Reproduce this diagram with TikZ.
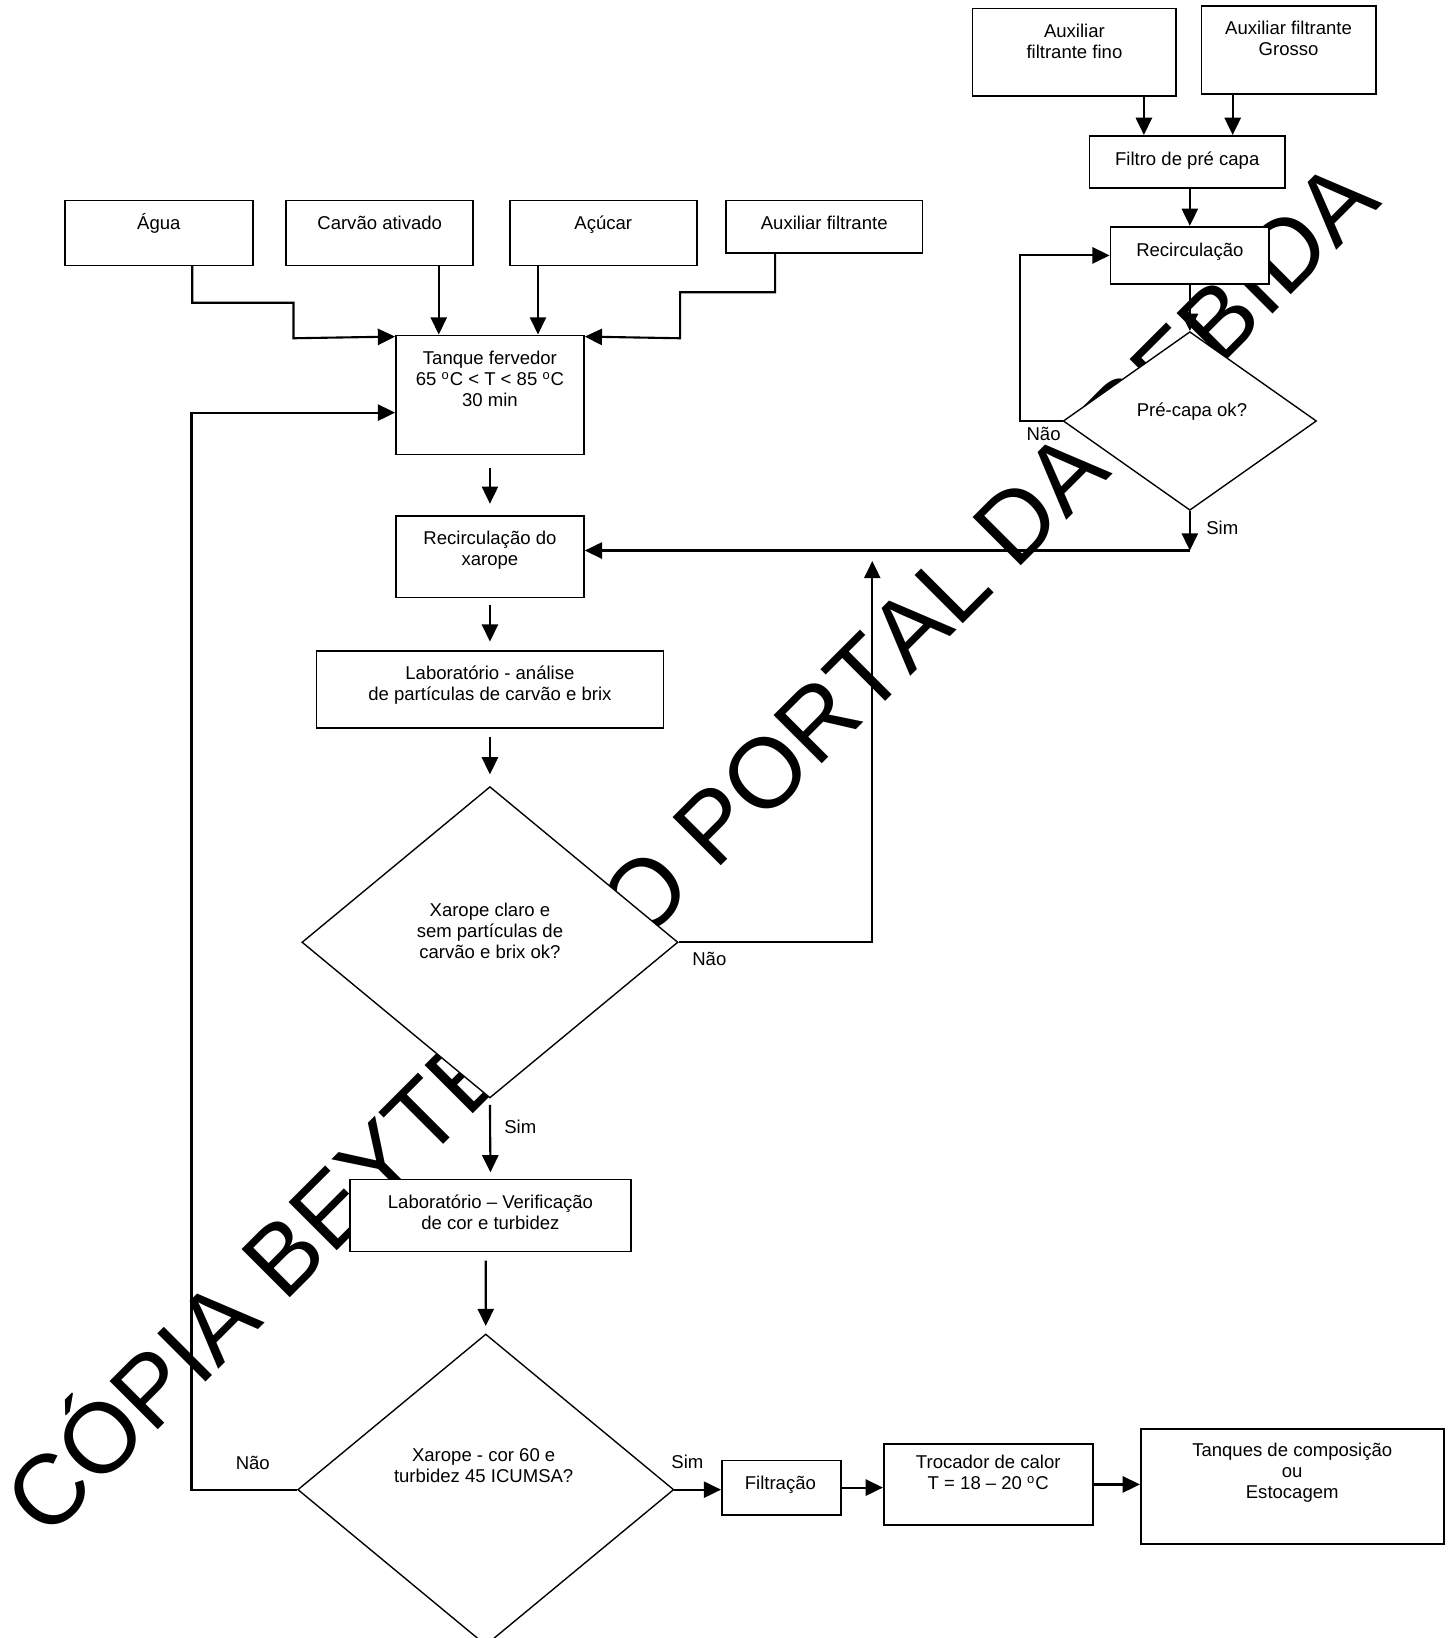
\documentclass[tikz,border=0pt]{standalone}
\usepackage{fontspec}
\setmainfont{Liberation Sans}
\newfontfamily\marcafont{Liberation Sans}[Kerning=Off]
\usetikzlibrary{positioning,fit,arrows.meta,shapes.geometric}
\newcommand{\ml}[1]{\begin{tabular}[t]{@{}c@{}}#1\end{tabular}}

\begin{document}
\begin{tikzpicture}
	[   x=0.2mm, y=-0.2mm,
		box/.style={draw=black,fill=white,line width=0.9pt,inner sep=0pt,fit={#1}},
		dec/.style={diamond,draw=black,fill=white,line width=0.75pt,inner sep=0pt,minimum width=72mm,minimum height=59.6mm},
		txt/.style={anchor=base,inner sep=0pt,font=\fontsize{10.1}{11.5}\selectfont},
		marca/.style={anchor=base west,rotate=45,inner sep=0pt,font=\marcafont\fontsize{54}{60}\selectfont},
	]
	\tikzset{flow arrow/.style={draw,line width=1.15pt,-{Triangle[length=3.3mm,width=3.1mm]}}}
	\useasboundingbox (0,0) rectangle (1393,1568);
	
	\node[marca] (marca-a) at (45,1475) {CÓPIA BEYTE};
	\node[marca] (marca-b) at (614,905) {O PORTAL DA};
	\node[marca] (marca-c) at (1077.8,441.3) {BEBIDA};
	
	\foreach \name/\xa/\xb/\yb/\txt in {agua/62/242/254/Água, carvao/274/453/254/Carvão ativado, acucar/488/667/254/Açúcar, auxfil/695/883/242/Auxiliar filtrante}
	{
		\node[box={(\xa,192) (\xb,\yb)}] (\name) {};
		\node[txt] (\name-t) at ({(\xa+\xb)/2},220) {\txt};
	}
	
	\node[box={(931,8) (1126,92)}] (fino) {};
	\node[txt] (fino-t) at (1028.5,36) {\ml{Auxiliar\\filtrante fino}};
	\node[box={(1150,6) (1317,90)}] (grosso) {};
	\node[txt] (grosso-t) at (1233.5,33) {\ml{Auxiliar filtrante\\Grosso}};
	\node[box={(1043,130) (1230,180)}] (filtro) {};
	\node[txt] (filtro-t) at (1136.5,158) {Filtro de pré capa};
	\node[box={(1063,217) (1215,272)}] (recirc) {};
	\node[txt] (recirc-t) at (1139,245.5) {Recirculação};
	\node[dec,minimum width=48.5mm,minimum height=34.2mm] (precapa) at (1139,403) {};
	\node[txt] (precapa-t) at (1141,399) {Pré-capa ok?};
	
	\node[box={(379,321) (559,435)}] (tanque) {};
	\node[txt] (tanque-t) at (469,349) {\ml{Tanque fervedor\\65 \textsuperscript{o}C < T < 85 \textsuperscript{o}C\\30 min}};
	\node[box={(379,494) (559,572)}] (recxar) {};
	\node[txt] (recxar-t) at (469,521) {\ml{Recirculação do\\xarope}};
	\node[box={(303,623) (635,697)}] (lab1) {};
	\node[txt] (lab1-t) at (469,650) {\ml{Laboratório - análise\\de partículas de carvão e brix}};
	\node[dec] (xclaro) at (469,902) {};
	\node[txt] (xclaro-t) at (469,877) {\ml{Xarope claro e\\sem partículas de\\carvão e brix ok?}};
	\node[box={(335,1129) (604,1198)}] (lab2) {};
	\node[txt] (lab2-t) at (469.5,1156.5) {\ml{Laboratório – Verificação\\de cor e turbidez}};
	\node[dec] (xcor) at (465,1426) {};
	\node[txt] (xcor-t) at (463,1399) {\ml{Xarope - cor 60 e\\turbidez 45 ICUMSA?}};
	
	\node[box={(691,1398) (805,1450)}] (filtracao) {};
	\node[txt] (filtracao-t) at (747,1426) {Filtração};
	\node[box={(846,1382) (1046,1460)}] (trocador) {};
	\node[txt] (trocador-t) at (946,1406) {\ml{Trocador de calor\\T = 18 – 20 \textsuperscript{o}C}};
	\node[box={(1092,1368) (1382,1478)}] (tanques) {};
	\node[txt] (tanques-t) at (1237,1394) {\ml{Tanques de composição\\ou\\Estocagem}};
	
	% pre-capa
	\coordinate (fino-o) at ([xshift=13.3mm]fino.south);
	\coordinate (grosso-o) at ([xshift=-10.7mm]grosso.south);
	\coordinate (sim-j) at (1139,527);
	\path[flow arrow] (fino-o) -- (fino-o |- filtro.north);
	\path[flow arrow] (grosso-o) -- (grosso-o |- filtro.north);
	\path[flow arrow] (recirc.north |- filtro.south) -- (recirc.north);
	\path[flow arrow] (recirc.south) -- (precapa.north);
	\path[flow arrow] (precapa.west) -- ++(-41,0) |- (recirc.west);
	\path[flow arrow] (precapa.south) -- (sim-j);
	\path[flow arrow] (sim-j) -- (sim-j -| recxar.east);
	
	% entradas
	\coordinate (agua-o) at ([xshift=6.4mm]agua.south);
	\coordinate (carvao-o) at ([xshift=11.3mm]carvao.south);
	\coordinate (acucar-o) at ([xshift=-12.5mm]acucar.south);
	\coordinate (auxfil-o) at ([xshift=-9.4mm]auxfil.south);
	\path[flow arrow] (agua-o) -- ++(0,35) -| ++(97,34) -- ([yshift=-0.4mm]tanque.north west);
	\path[flow arrow] (carvao-o) -- (carvao-o |- tanque.north);
	\path[flow arrow] (acucar-o) -- (acucar-o |- tanque.north);
	\path[flow arrow] (auxfil-o) -- ++(0,37) -| ++(-91,44) -- ([yshift=-0.4mm]tanque.north east);
	
	% xarope
	\coordinate (nao-j) at (835,537);
	\path[flow arrow] ([yshift=-2.4mm]tanque.south) -- ([yshift=2.2mm]recxar.north);
	\path[flow arrow] ([yshift=-1.2mm]recxar.south) -- ([yshift=1.6mm]lab1.north);
	\path[flow arrow] ([yshift=-1.6mm]lab1.south) -- ([yshift=2.2mm]xclaro.north);
	\path[flow arrow] (xclaro.east) -| (nao-j);
	\path[flow arrow] ([yshift=-1.2mm]xclaro.south) -- ([yshift=1.2mm]lab2.north);
	\path[flow arrow] ([xshift=-0.9mm,yshift=-1.6mm]lab2.south) -- ([yshift=1.4mm]xcor.north);
	\path[flow arrow] (xcor.west) -- ++(-101,0) |- ([yshift=-3.4mm]tanque.west);
	\path[flow arrow] (xcor.east) -- (xcor.east -| filtracao.west);
	\path[flow arrow] (filtracao.east) -- (filtracao.east -| trocador.west);
	\path[flow arrow] (trocador.east) -- (trocador.east -| tanques.west);
	
	\node[txt] (nao-a) at (999,422) {Não};
	\node[txt] (sim-a) at (1170,512) {Sim};
	\node[txt] (nao-b) at (679,924) {Não};
	\node[txt] (sim-b) at (498,1085) {Sim};
	\node[txt] (nao-c) at (242,1407) {Não};
	\node[txt] (sim-c) at (658,1406) {Sim};
\end{tikzpicture}
\end{document}
